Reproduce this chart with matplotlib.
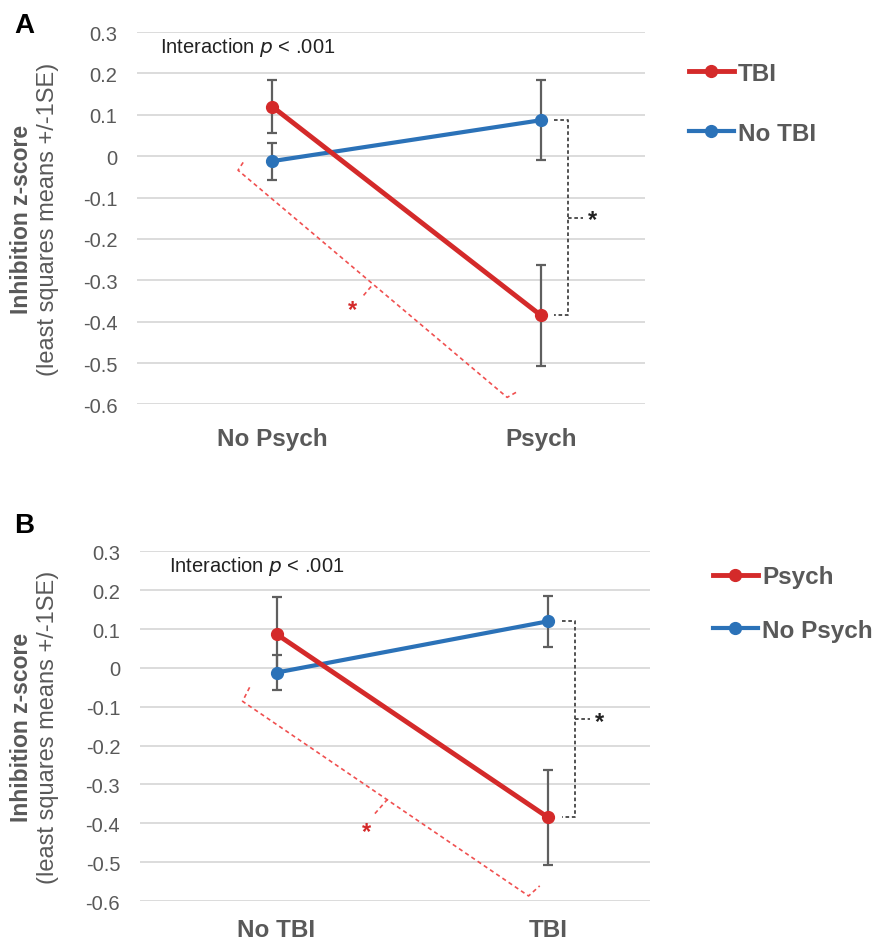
import numpy as np
import matplotlib.pyplot as plt

plt.rcParams['font.family'] = ['Liberation Sans', 'DejaVu Sans']

# panel A: x = psych status, series = TBI status
cats_a = ["No Psych", "Psych"]
tbi_a = [0.12, -0.385]
tbi_a_se = [0.065, 0.123]
notbi_a = [-0.012, 0.087]
notbi_a_se = [0.045, 0.096]

# panel B: x = TBI status, series = psych status
cats_b = ["No TBI", "TBI"]
psych_b = [0.087, -0.385]
psych_b_se = [0.096, 0.123]
nopsych_b = [-0.012, 0.12]
nopsych_b_se = [0.045, 0.065]

yticks = [0.3, 0.2, 0.1, 0, -0.1, -0.2, -0.3, -0.4, -0.5, -0.6]
ytick_labels = ["0.3", "0.2", "0.1", "0", "-0.1", "-0.2", "-0.3", "-0.4", "-0.5", "-0.6"]

RED = '#d42a2a'
BLUE = '#2b72b8'
GREY = '#5f5f5f'
LBL = '#595959'

fig = plt.figure(figsize=(8.78, 9.45), dpi=100)
ax_a = fig.add_axes([0.156, 0.571, 0.579, 0.394])
ax_b = fig.add_axes([0.159, 0.0455, 0.581, 0.370])


def draw_panel(ax, cats, red_vals, red_se, blue_vals, blue_se, red_name, blue_name,
               red_brk, xlim, tickpad, txt_x, leg_anchor, leg_space):
    x = np.arange(len(cats))
    for vals, se in [(blue_vals, blue_se), (red_vals, red_se)]:
        ax.errorbar(x, vals, yerr=se, fmt='none', ecolor=GREY, elinewidth=1.6,
                    capsize=3.5, capthick=1.6, zorder=2)
    ax.plot(x, blue_vals, '-o', color=BLUE, lw=3, ms=8.5, zorder=3, label=blue_name)
    ax.plot(x, red_vals, '-o', color=RED, lw=3.5, ms=8.5, zorder=4, label=red_name)

    ax.set_ylim(-0.6, 0.3)
    ax.set_xlim(*xlim)
    ax.set_yticks(yticks)
    ax.set_yticklabels(ytick_labels)
    ax.set_xticks(x)
    ax.set_xticklabels(cats, fontsize=17.5, fontweight='bold', color=LBL)
    ax.tick_params(axis='y', length=0, labelsize=14.5, labelcolor=LBL, pad=14)
    ax.tick_params(axis='x', length=0, pad=tickpad)
    ax.grid(axis='y', color='#d9d9d9', lw=1.3)
    ax.set_axisbelow(True)
    for s in ax.spines.values():
        s.set_visible(False)

    ax.text(txt_x, 0.96, "Interaction $p$ < .001", transform=ax.transAxes,
            fontsize=14.5, color='#222222', va='center')

    # black bracket between the two series at the right category
    top = max(red_vals[1], blue_vals[1])
    bot = min(red_vals[1], blue_vals[1])
    mid = (top + bot) / 2
    bx = 1.1
    ax.plot([1.05, bx, bx, 1.05], [top, top, bot, bot], color='#444444',
            lw=1.3, ls=(0, (2, 1.5)), zorder=5)
    ax.plot([bx, 1.155], [mid, mid], color='#444444', lw=1.3, ls=(0, (2, 1.5)))
    ax.text(1.19, mid - 0.005, "*", fontsize=17, fontweight='bold', color='#222222',
            ha='center', va='center')

    # red bracket along the falling line
    pts, tick, star = red_brk
    ax.plot([p[0] for p in pts], [p[1] for p in pts], color='#f05050', lw=1.2,
            ls=(0, (2.5, 2)), zorder=1)
    ax.plot([tick[0][0], tick[1][0]], [tick[0][1], tick[1][1]], color='#f05050',
            lw=1.2, ls=(0, (2.5, 2)))
    ax.text(star[0], star[1], "*", fontsize=17, fontweight='bold', color=RED,
            ha='center', va='center')

    handles, labels = ax.get_legend_handles_labels()
    leg = ax.legend(handles[::-1], labels[::-1], loc='center left',
                    bbox_to_anchor=leg_anchor, frameon=False, fontsize=17.5,
                    handlelength=1.85, handletextpad=0.17, labelspacing=leg_space,
                    borderaxespad=0, borderpad=0)
    for t in leg.get_texts():
        t.set_fontweight('bold')
        t.set_color(LBL)


brk_a = ([(-0.108, -0.015), (-0.127, -0.034), (0.874, -0.583), (0.915, -0.568)],
         [(0.368, -0.315), (0.334, -0.341)], (0.30, -0.37))
brk_b = ([(-0.099, -0.05), (-0.125, -0.086), (0.928, -0.587), (0.969, -0.561)],
         [(0.409, -0.338), (0.361, -0.376)], (0.332, -0.42))

draw_panel(ax_a, cats_a, tbi_a, tbi_a_se, notbi_a, notbi_a_se, "TBI", "No TBI",
           brk_a, (-0.503, 1.388), 16, 0.045, (1.085, 0.809), 1.52)
draw_panel(ax_b, cats_b, psych_b, psych_b_se, nopsych_b, nopsych_b_se, "Psych",
           "No Psych", brk_b, (-0.504, 1.374), 12, 0.057, (1.124, 0.851), 1.27)

for ax, letter, ly in [(ax_a, "A", 0.973), (ax_b, "B", 0.443)]:
    fig.text(0.016, ly, letter, fontsize=20, fontweight='bold', color='black',
             va='center')
    pos = ax.get_position()
    yc = (pos.y0 + pos.y1) / 2
    fig.text(0.025, yc, "Inhibition z-score", rotation=90, fontsize=16.5,
             fontweight='bold', color=LBL, ha='center', va='center')
    fig.text(0.055, yc, "(least squares means +/-1SE)", rotation=90, fontsize=17,
             color=LBL, ha='center', va='center')

fig.savefig("out.png", dpi=100)
